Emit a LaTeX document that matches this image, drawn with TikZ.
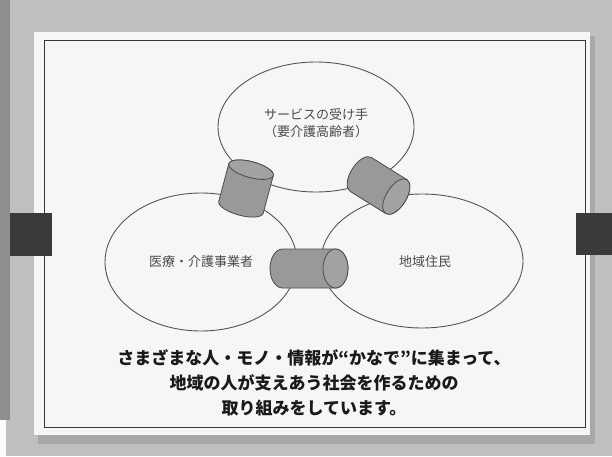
\documentclass[tikz,border=0pt]{standalone}
\usepackage{fontspec}
\setmainfont{Noto Sans CJK JP}
\usetikzlibrary{shapes.geometric}
\definecolor{bggray}{HTML}{BFBFBF}
\definecolor{stripgray}{HTML}{8E8E8E}
\definecolor{shadowgray}{HTML}{A8A8A8}
\definecolor{boardwhite}{HTML}{F6F6F6}
\definecolor{framecol}{HTML}{383838}
\definecolor{ringcol}{HTML}{555555}
\definecolor{tubefillcol}{HTML}{999999}
\definecolor{tubefacecol}{HTML}{A2A2A2}
\definecolor{tubelinecol}{HTML}{4A4A4A}
\definecolor{tabcol}{HTML}{3A3A3A}
\definecolor{labelcol}{HTML}{4A4A4A}
\definecolor{msgcol}{HTML}{1A1A1A}
\tikzset{
  bubble/.style={ellipse, draw=ringcol, line width=0.9pt, inner sep=0pt},
  tube/.style={fill=tubefillcol, draw=tubelinecol, line width=0.8pt},
  tubeface/.style={fill=tubefacecol, draw=tubelinecol, line width=0.8pt},
  ringlabel/.style={text=labelcol, font=\fontsize{13}{17}\selectfont, align=center, inner sep=0pt},
  msgtext/.style={text=msgcol, font=\bfseries\fontsize{17}{25}\selectfont, align=center, inner sep=0pt},
  tabbox/.style={fill=tabcol, draw=none}
}
% #1,#2 centre; #3 angle; #4 half length; #5 radius; #6 end-ellipse minor radius
\newcommand\tubeshape[6]{%
  \begin{scope}[shift={(#1,#2)},rotate=#3]
    \filldraw[tube] (-#4,-#5) -- (#4,-#5)
      arc[start angle=-90,end angle=90,x radius=#6pt,y radius=#5pt]
      -- (-#4,#5)
      arc[start angle=90,end angle=270,x radius=#6pt,y radius=#5pt] -- cycle;
    \filldraw[tubeface] (#4,0) ellipse[x radius=#6pt,y radius=#5pt];
  \end{scope}}
\begin{document}
\begin{tikzpicture}[x=1pt,y=1pt]
\useasboundingbox (0,0) rectangle (612,456);
% background
\fill[bggray] (0,0) rectangle (612,456);
\fill[stripgray] (0,36) rectangle (10,456);
\fill[white!92!bggray] (0,0) rectangle (6,36);
% board shadow and board
\fill[shadowgray] (38,12) rectangle (595,420);
\fill[boardwhite] (34,21) rectangle (590,424);
\draw[framecol, line width=0.8pt] (44,29) rectangle (585,416);
% three circles
\node[bubble, minimum width=196pt, minimum height=130pt] (serv) at (316,329) {};
\node[bubble, minimum width=192pt, minimum height=138pt] (prov) at (201,194) {};
\node[bubble, minimum width=202pt, minimum height=134pt] (resid) at (422,195) {};
% labels
\node[ringlabel] (servtxt) at (316,333) {サービスの受け手\\（要介護高齢者）};
\node[ringlabel] (provtxt) at (201,194) {医療・介護事業者};
\node[ringlabel] (residtxt) at (425,194) {地域住民};
% connecting cylinders
\tubeshape{246}{267.5}{75}{19.5}{23}{8}
\tubeshape{378.5}{270.5}{-32}{21}{20}{10}
\tubeshape{309}{187.5}{0}{26.5}{19.5}{12.5}
% tabs
\fill[tabbox] (10,200) rectangle (52,243);
\fill[tabbox] (576,201) rectangle (612,243);
% message
\node[msgtext] (msg) at (314,73) {さまざまな人・モノ・情報が“かなで”に集まって、\\地域の人が支えあう社会を作るための\\取り組みをしています。};
\end{tikzpicture}
\end{document}
